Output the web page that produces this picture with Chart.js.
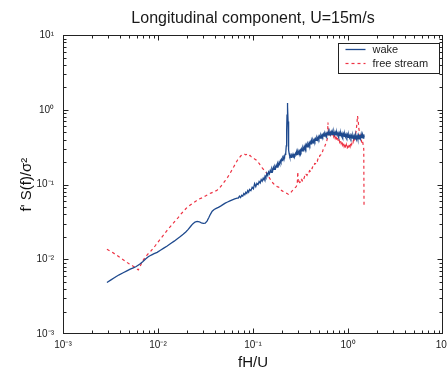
<!DOCTYPE html>
<html><head><meta charset="utf-8">
<script src="https://cdn.jsdelivr.net/npm/chart.js@4.4.0/dist/chart.umd.min.js"></script>
<style>html,body{margin:0;padding:0;background:#fff;overflow:hidden}</style>
</head><body>
<canvas id="c" width="447" height="374"></canvas>
<script>
const titleText = 'Longitudinal component, U=15m/s';
const xTitle = 'fH/U';
const yTitle = "f' S(f)/\u03C3\u00B2";
const seriesNames = ['wake', 'free stream'];

const decades = [0.001, 0.01, 0.1, 1, 10];
const decadeLabels = ['10\u207B\u00B3', '10\u207B\u00B2', '10\u207B\u00B9', '10\u2070', '10\u00B9'];
const minorSteps = [1, 2, 3, 4, 5, 6, 7, 8, 9];

const wakeFreq = [
0.0029,0.0032,0.0035,0.0039,0.0043,0.0047,0.0051,0.0055,0.0059,0.0064,0.0069,0.0074,0.0079,0.0085,0.0091,0.0098,
0.0106,0.0115,0.0125,0.0136,0.0148,0.0160,0.0172,0.0184,0.0196,0.0208,0.0220,0.0232,0.0245,0.0258,0.0272,0.0286,
0.0300,0.0314,0.0328,0.0342,0.0356,0.0372,0.0390,0.0410,0.0432,0.0456,0.0482,0.0510,0.0540,0.0572,0.0606,0.0642,0.0680,
0.070,0.072,0.074,0.076,0.078,0.080,0.082,0.084,0.086,0.088,0.090,0.092,0.095,0.098,0.101,0.104,0.107,0.110,0.113,
0.116,0.119,0.122,0.125,0.128,0.131,0.134,0.137,0.140,0.143,0.146,0.149,0.152,0.155,0.158,0.161,0.164,0.167,0.170,
0.173,0.176,0.179,0.182,0.185,0.188,0.191,0.194,0.197,0.200,0.203,0.206,0.209,0.212,0.215,0.218,0.221,0.224,0.226,
0.228,0.230,0.232,0.234,0.236,0.238,
0.240,0.244,0.248,0.252,0.256,0.260,0.264,0.268,0.272,0.276,0.280,0.284,0.288,0.292,0.296,0.300,0.305,0.310,0.315,
0.320,0.325,0.330,0.335,0.340,0.345,0.350,0.355,0.360,0.366,0.372,0.378,0.384,0.390,0.396,0.402,0.408,0.414,0.420,
0.427,0.434,0.441,0.448,0.455,0.462,0.470,0.478,0.486,0.494,0.502,0.510,0.518,0.526,0.534,0.542,0.551,0.560,0.569,
0.578,0.587,0.596,0.606,0.616,0.626,0.636,0.646,0.657,0.668,0.679,0.690,0.701,0.712,0.724,0.736,0.748,0.760,0.772,
0.785,0.798,0.811,0.824,0.838,0.852,0.866,0.880,0.895,0.910,0.925,0.940,0.956,0.972,0.988,1.004,1.021,1.038,1.055,
1.073,1.091,1.109,1.128,1.147,1.166,1.186,1.206,1.226,1.247,1.268,1.289,1.311,1.333,1.355,1.378,1.401,1.424,1.448,
1.465,1.480];
const wakeSpec = [
0.0049,0.0053,0.0057,0.0062,0.0066,0.0070,0.0074,0.0077,0.0080,0.0086,0.0093,0.0101,0.0108,0.0114,0.0119,0.0124,
0.0132,0.0141,0.0151,0.0163,0.0175,0.0189,0.0202,0.0216,0.0232,0.0252,0.0275,0.0298,0.0315,0.0322,0.0318,0.0308,
0.0302,0.0305,0.0325,0.0360,0.0400,0.0440,0.0465,0.0480,0.0495,0.0515,0.0540,0.0565,0.0585,0.0605,0.0625,0.0645,0.0660,
0.066,0.070,0.067,0.072,0.070,0.076,0.073,0.079,0.076,0.083,0.079,0.086,0.083,0.092,0.088,0.103,0.094,0.104,0.100,
0.110,0.105,0.117,0.111,0.122,0.115,0.130,0.125,0.142,0.132,0.148,0.140,0.155,0.146,0.162,0.152,0.170,0.160,0.175,
0.166,0.182,0.172,0.190,0.180,0.198,0.188,0.208,0.198,0.218,0.210,0.230,0.222,0.240,0.235,0.255,0.262,0.330,0.520,
0.850,1.240,1.100,0.700,0.420,0.290,
0.262,0.238,0.245,0.232,0.248,0.240,0.256,0.243,0.252,0.246,0.262,0.250,0.270,0.255,0.276,0.262,0.284,0.268,0.290,
0.275,0.300,0.282,0.310,0.292,0.318,0.300,0.335,0.312,0.342,0.320,0.350,0.332,0.362,0.340,0.372,0.352,0.385,0.362,
0.395,0.372,0.402,0.380,0.412,0.392,0.425,0.400,0.438,0.410,0.445,0.420,0.455,0.430,0.462,0.440,0.475,0.445,0.480,
0.452,0.488,0.458,0.492,0.462,0.498,0.465,0.505,0.470,0.508,0.468,0.502,0.470,0.510,0.466,0.500,0.462,0.498,0.460,
0.495,0.455,0.490,0.452,0.488,0.448,0.485,0.445,0.480,0.442,0.475,0.438,0.472,0.435,0.468,0.430,0.462,0.425,0.458,
0.422,0.455,0.418,0.452,0.415,0.450,0.410,0.448,0.405,0.450,0.408,0.455,0.410,0.462,0.415,0.472,0.420,0.468,0.418,
0.470,0.430];

const freeFreq = [
0.0029,0.0033,0.0037,0.0041,0.0045,0.0049,0.0053,0.0057,0.0060,0.0062,0.0064,0.0067,0.0070,0.0074,0.0078,0.0083,
0.0088,0.0094,0.0100,0.0107,0.0115,0.0123,0.0132,0.0142,0.0152,0.0163,0.0175,0.0188,0.0202,0.0217,0.0233,0.0250,
0.0270,0.0290,0.0312,0.0335,0.0360,0.0388,0.0418,0.0450,0.0480,0.0510,0.0540,0.0570,0.0600,0.0630,0.0660,0.0690,
0.0720,0.0750,0.0780,0.0810,0.0840,0.0870,0.0900,0.0930,0.0960,0.1000,0.1040,0.1080,0.1120,0.1160,0.1200,0.1250,
0.1300,0.1350,0.1400,0.1450,0.1500,0.1560,0.1620,0.1680,0.1740,0.1800,0.1870,0.1940,0.2010,0.2080,0.2150,0.2220,
0.2290,0.2360,0.2430,0.2500,0.2570,0.2640,0.2710,0.2780,0.2850,0.2920,0.2960,0.3000,0.3050,0.3110,0.3170,0.3230,
0.3290,0.3350,0.3420,0.3490,0.3560,0.3630,0.3700,0.3780,0.3860,0.3940,0.4020,0.4100,0.4190,0.4280,0.4370,0.4460,
0.4550,0.4650,0.4750,0.4850,0.4950,0.5050,0.5150,0.5260,0.5370,0.5480,0.5600,0.5720,0.5840,0.5960,0.6080,0.6150,
0.6220,0.6300,0.6400,0.6500,0.6600,0.6720,0.6840,0.6960,0.7080,0.7200,0.7330,0.7460,0.7600,0.7740,0.7880,0.8020,
0.8170,0.8320,0.8470,0.8620,0.8780,0.8940,0.9100,0.9270,0.9440,0.9610,0.9790,0.9970,1.0150,1.0340,1.0530,1.0720,
1.0920,1.1120,1.1320,1.1530,1.1740,1.1960,1.2180,1.2400,1.2600,1.2800,1.3000,1.3250,1.3500,1.3750,1.4000,1.4250,
1.4500,1.4650,1.4750];
const freeSpec = [
0.0136,0.0124,0.0113,0.0103,0.0095,0.0088,0.0083,0.0078,0.0074,0.0072,0.0078,0.0088,0.0098,0.0108,0.0117,0.0126,
0.0138,0.0153,0.0170,0.0190,0.0213,0.0238,0.0265,0.0295,0.0328,0.0362,0.0405,0.0448,0.0495,0.0530,0.0565,0.0600,
0.0640,0.0665,0.0700,0.0735,0.0770,0.0800,0.0840,0.0920,0.1020,0.1130,0.1250,0.1400,0.1570,0.1750,0.1950,0.2150,
0.2300,0.2450,0.2520,0.2580,0.2500,0.2560,0.2440,0.2460,0.2350,0.2280,0.2200,0.2130,0.2020,0.1920,0.1800,0.1680,
0.1580,0.1500,0.1400,0.1300,0.1210,0.1120,0.1050,0.1000,0.0960,0.0940,0.0920,0.0860,0.0830,0.0810,0.0790,0.0770,
0.0760,0.0740,0.0750,0.0780,0.0820,0.0850,0.0880,0.0910,0.0940,0.1000,0.1480,0.1050,0.1020,0.1100,0.1060,0.1160,
0.1120,0.1220,0.1180,0.1280,0.1250,0.1360,0.1330,0.1440,0.1420,0.1540,0.1520,0.1650,0.1640,0.1780,0.1760,0.1920,
0.1900,0.2080,0.2060,0.2250,0.2230,0.2450,0.2480,0.2700,0.2720,0.2950,0.3050,0.3300,0.3550,0.3800,0.4200,0.6800,
0.4600,0.5200,0.4400,0.5300,0.4700,0.5100,0.4600,0.4900,0.4400,0.4700,0.4200,0.4500,0.4000,0.4300,0.3850,0.4100,
0.3700,0.3950,0.3550,0.3800,0.3400,0.3650,0.3250,0.3500,0.3050,0.3400,0.3000,0.3350,0.3100,0.3500,0.3250,0.3700,
0.3450,0.3850,0.3700,0.4200,0.4000,0.4600,0.5200,0.6500,0.8300,0.7200,0.5600,0.5000,0.4400,0.4100,0.3600,0.3800,
0.3300,0.3000,0.0500];

const seriesColors = ['#1f4a8e', '#ee3344'];
const FONT = "'Liberation Sans', Arial, Helvetica, sans-serif";

function toPoints(xs, ys) { return xs.map((v, i) => ({ x: v, y: ys[i] })); }

function buildLogTicks(scale) {
  const t = [];
  decades.forEach((d, i) => {
    if (i < decades.length - 1) {
      minorSteps.forEach(m => t.push({ value: d * m, major: m === 1 }));
    } else {
      t.push({ value: d, major: true });
    }
  });
  scale.ticks = t;
}
function decadeLabel(value) {
  const k = decades.findIndex(d => Math.abs(value / d - 1) < 1e-9);
  return k >= 0 ? decadeLabels[k] : '';
}

const framePlugin = {
  id: 'frame',
  afterDatasetsDraw(chart) {
    const { ctx, chartArea: a, scales: { x, y } } = chart;
    ctx.save();
    ctx.strokeStyle = '#222';
    ctx.lineWidth = 1;
    ctx.setLineDash([]);
    const L = Math.round(a.left) + 0.5, R = Math.round(a.right) - 0.5;
    const T = Math.round(a.top) + 0.5, B = Math.round(a.bottom) - 0.5;
    ctx.strokeRect(L, T, R - L, B - T);
    ctx.beginPath();
    x.ticks.forEach(t => {
      if (t.value <= x.min || t.value >= x.max) return;
      const px = Math.round(x.getPixelForValue(t.value)) + 0.5;
      const len = t.major ? 5 : 3;
      ctx.moveTo(px, B); ctx.lineTo(px, B - len);
      ctx.moveTo(px, T); ctx.lineTo(px, T + len);
    });
    y.ticks.forEach(t => {
      if (t.value <= y.min || t.value >= y.max) return;
      const py = Math.round(y.getPixelForValue(t.value)) + 0.5;
      const len = t.major ? 5 : 3;
      ctx.moveTo(L, py); ctx.lineTo(L + len, py);
      ctx.moveTo(R, py); ctx.lineTo(R - len, py);
    });
    ctx.stroke();

    // legend
    const bw = 101, bh = 30;
    const bx = Math.round(a.right) - 105 + 0.5, by = Math.round(a.top) + 8 + 0.5;
    ctx.fillStyle = '#fff';
    ctx.fillRect(bx, by, bw, bh);
    ctx.strokeStyle = '#222';
    ctx.strokeRect(bx, by, bw, bh);
    ctx.font = '11px ' + FONT;
    ctx.textBaseline = 'middle';
    ctx.textAlign = 'left';
    chart.data.datasets.forEach((ds, i) => {
      const ly = by + 6 + i * 14;
      ctx.beginPath();
      ctx.strokeStyle = ds.borderColor;
      ctx.lineWidth = ds.borderWidth;
      ctx.setLineDash(ds.borderDash || []);
      ctx.moveTo(bx + 7, ly); ctx.lineTo(bx + 27, ly);
      ctx.stroke();
      ctx.setLineDash([]);
      ctx.fillStyle = '#222';
      ctx.fillText(ds.label, bx + 34, ly + 0.5);
    });
    ctx.restore();
  }
};

new Chart(document.getElementById('c'), {
  type: 'line',
  data: {
    datasets: [
      { label: seriesNames[0], data: toPoints(wakeFreq, wakeSpec), borderColor: seriesColors[0], borderWidth: 1.3, pointRadius: 0, tension: 0, fill: false },
      { label: seriesNames[1], data: toPoints(freeFreq, freeSpec), borderColor: seriesColors[1], borderWidth: 1.2, borderDash: [3, 3], pointRadius: 0, tension: 0, fill: false }
    ]
  },
  options: {
    responsive: false,
    animation: false,
    devicePixelRatio: 1,
    layout: { padding: { left: 0, right: 4, top: 0, bottom: 0 } },
    plugins: {
      legend: { display: false },
      tooltip: { enabled: false },
      title: {
        display: true, text: titleText, fullSize: false, color: '#1a1a1a',
        font: { family: FONT, size: 16, weight: 'normal' },
        padding: { top: 9, bottom: 7 }
      }
    },
    scales: {
      x: {
        type: 'logarithmic', min: decades[0], max: decades[decades.length - 1],
        afterBuildTicks: buildLogTicks,
        afterFit: s => { s.height = 40; s.paddingLeft = 0; s.paddingRight = 0; },
        grid: { display: false, drawTicks: false },
        border: { display: false },
        ticks: { autoSkip: false, maxRotation: 0, minRotation: 0, padding: 5, color: '#222',
          font: { family: FONT, size: 10 }, callback: v => decadeLabel(v) },
        title: { display: true, text: xTitle, color: '#111', font: { family: FONT, size: 15 }, padding: { top: 0, bottom: 2 } }
      },
      y: {
        type: 'logarithmic', min: decades[0], max: decades[decades.length - 1],
        afterBuildTicks: buildLogTicks,
        afterFit: s => { s.width = 63; },
        grid: { display: false, drawTicks: false },
        border: { display: false },
        ticks: { autoSkip: false, padding: 9, color: '#222',
          font: { family: FONT, size: 10 }, callback: v => decadeLabel(v) },
        title: { display: true, text: yTitle, color: '#111', font: { family: FONT, size: 15 }, padding: { top: 18, bottom: 0 } }
      }
    }
  },
  plugins: [framePlugin]
});
</script>
</body></html>
